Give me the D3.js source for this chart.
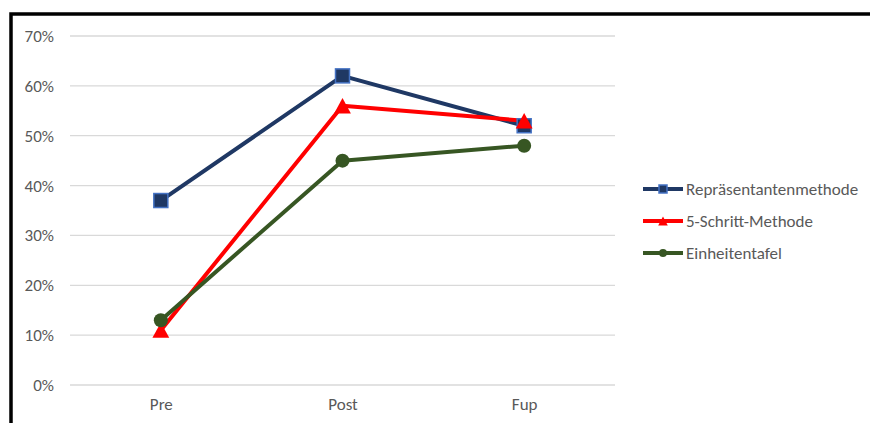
<!DOCTYPE html>
<html>
<head>
<meta charset="utf-8">
<script src="https://cdn.jsdelivr.net/npm/d3@7"></script>
<style>
  body { margin: 0; background: #fff; }
  text { font-family: Calibri, Carlito, "Open Sans", "Liberation Sans", sans-serif; fill: #595959; }
</style>
</head>
<body>
<script>
'use strict';

// data
var categories = ['Pre', 'Post', 'Fup'];
var yTicks = [0, 0.1, 0.2, 0.3, 0.4, 0.5, 0.6, 0.7];
var seriesNames = ['Repräsentantenmethode', '5-Schritt-Methode', 'Einheitentafel'];
var repValues = [0.37, 0.62, 0.52];
var schrittValues = [0.11, 0.56, 0.53];
var einheitValues = [0.13, 0.45, 0.48];

var width = 870, height = 423;
var fontSize = '17px';

var svg = d3.select('body').append('svg')
  .attr('width', width)
  .attr('height', height);

// chart frame (only top and left visible)
svg.append('rect')
  .attr('x', 11).attr('y', 14)
  .attr('width', 900).attr('height', 450)
  .attr('fill', 'none')
  .attr('stroke', '#000')
  .attr('stroke-width', 3.5);

var x = d3.scalePoint().domain(categories).range([70, 615]).padding(0.5);
var y = d3.scaleLinear().domain([0, 0.7]).range([385, 36]);

// gridlines
svg.append('g').selectAll('line')
  .data(yTicks)
  .join('line')
  .attr('x1', 70).attr('x2', 615)
  .attr('y1', function (d) { return y(d); })
  .attr('y2', function (d) { return y(d); })
  .attr('stroke', '#d9d9d9')
  .attr('stroke-width', 1.3);

// y axis labels
var yAxis = d3.axisLeft(y).tickValues(yTicks).tickFormat(d3.format('.0%')).tickSize(0).tickPadding(0);
var yg = svg.append('g').attr('transform', 'translate(54,0)').call(yAxis);
yg.select('.domain').remove();
yg.selectAll('text').style('font-size', fontSize).attr('fill', '#595959');

// x axis labels
var xAxis = d3.axisBottom(x).tickSize(0).tickPadding(0);
var xg = svg.append('g').attr('transform', 'translate(0,398)').call(xAxis);
xg.select('.domain').remove();
xg.selectAll('text').style('font-size', fontSize).attr('fill', '#595959');
svg.selectAll('g').attr('font-family', null).attr('font-size', null);

var series = [
  { name: seriesNames[0], values: repValues, color: '#1f3864', marker: 'square' },
  { name: seriesNames[1], values: schrittValues, color: '#ff0000', marker: 'triangle' },
  { name: seriesNames[2], values: einheitValues, color: '#375623', marker: 'circle' }
];

var line = d3.line()
  .x(function (d, i) { return x(categories[i]); })
  .y(function (d) { return y(d); });

function drawMarker(g, type, color, size) {
  if (type === 'square') {
    g.append('rect')
      .attr('x', -size / 2).attr('y', -size / 2)
      .attr('width', size).attr('height', size)
      .attr('fill', color)
      .attr('stroke', '#4472c4')
      .attr('stroke-width', 1.5);
  } else if (type === 'triangle') {
    var w = size * 1.2, h = size * 1.1;
    g.append('path')
      .attr('d', 'M0,' + (-h / 2) + 'L' + (w / 2) + ',' + (h / 2) + 'L' + (-w / 2) + ',' + (h / 2) + 'Z')
      .attr('fill', color);
  } else {
    g.append('circle').attr('r', size / 2).attr('fill', color);
  }
}

series.forEach(function (s) {
  svg.append('path')
    .datum(s.values)
    .attr('d', line)
    .attr('fill', 'none')
    .attr('stroke', s.color)
    .attr('stroke-width', 4)
    .attr('stroke-linejoin', 'round');
});

series.forEach(function (s) {
  s.values.forEach(function (v, i) {
    var g = svg.append('g').attr('transform', 'translate(' + x(categories[i]) + ',' + y(v) + ')');
    drawMarker(g, s.marker, s.color, 14);
  });
});

// legend
var legend = svg.append('g');
series.forEach(function (s, i) {
  var ly = 189 + i * 32;
  var g = legend.append('g').attr('transform', 'translate(0,' + ly + ')');
  g.append('line')
    .attr('x1', 643).attr('x2', 683)
    .attr('y1', 0).attr('y2', 0)
    .attr('stroke', s.color)
    .attr('stroke-width', 4);
  var m = g.append('g').attr('transform', 'translate(663,0)');
  drawMarker(m, s.marker, s.color, 8);
  g.append('text')
    .attr('x', 686).attr('y', 6)
    .style('font-size', fontSize)
    .text(s.name);
});
</script>
</body>
</html>
